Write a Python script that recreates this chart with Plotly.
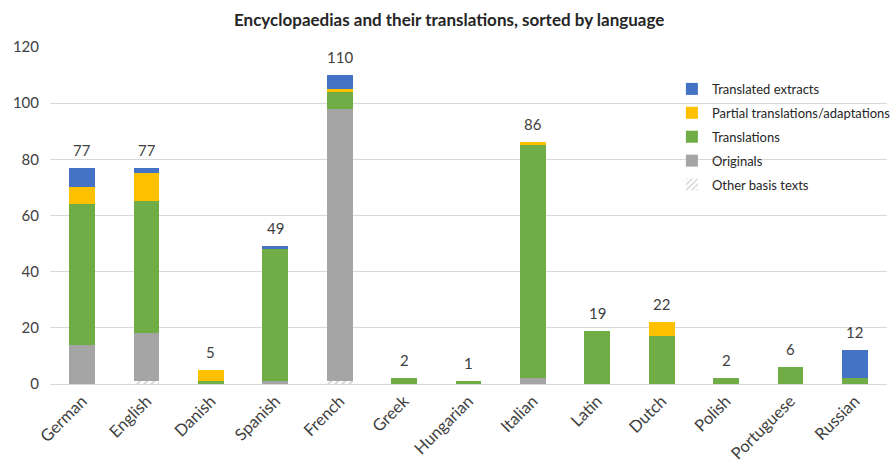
import plotly.graph_objects as go

# Counts per language, split by type of work
languages = ["German", "English", "Danish", "Spanish", "French", "Greek", "Hungarian",
             "Italian", "Latin", "Dutch", "Polish", "Portuguese", "Russian"]
other_basis = [0, 1, 0, 0, 1, 0, 0, 0, 0, 0, 0, 0, 0]
originals = [14, 17, 0, 1, 97, 0, 0, 2, 0, 0, 0, 0, 0]
translations = [50, 47, 1, 47, 6, 2, 1, 83, 19, 17, 2, 6, 2]
partial = [6, 10, 4, 0, 1, 0, 0, 1, 0, 5, 0, 0, 0]
extracts = [7, 2, 0, 1, 5, 0, 0, 0, 0, 0, 0, 0, 10]
y_ticks = [0, 20, 40, 60, 80, 100, 120]

FONT = "Lato"
TEXT = "#404040"
GRID = "#D9D9D9"

fig = go.Figure()

fig.add_trace(go.Bar(
    x=languages, y=other_basis, name="Other basis texts",
    marker=dict(color="white", line=dict(width=0),
                pattern=dict(shape="/", fgcolor="#A5A5A5", bgcolor="white",
                             size=5, solidity=0.35)),
    legendgroup="e", legendrank=5))
fig.add_trace(go.Bar(x=languages, y=originals, name="Originals",
                     marker=dict(color="#A5A5A5", line=dict(width=0)),
                     legendgroup="d", legendrank=4))
fig.add_trace(go.Bar(x=languages, y=translations, name="Translations",
                     marker=dict(color="#70AD47", line=dict(width=0)),
                     legendgroup="c", legendrank=3))
fig.add_trace(go.Bar(x=languages, y=partial, name="Partial translations/adaptations",
                     marker=dict(color="#FFC000", line=dict(width=0)),
                     legendgroup="b", legendrank=2))
fig.add_trace(go.Bar(x=languages, y=extracts, name="Translated extracts",
                     marker=dict(color="#4472C4", line=dict(width=0)),
                     legendgroup="a", legendrank=1))

# Total labels above each stack
totals = [sum(v) for v in zip(other_basis, originals, translations, partial, extracts)]
for lang, tot in zip(languages, totals):
    fig.add_annotation(x=lang, y=tot, text=str(tot), showarrow=False,
                       yanchor="bottom", yshift=7,
                       font=dict(family=FONT, size=15, color=TEXT))

fig.update_layout(
    width=893, height=463,
    barmode="stack", bargap=0.6,
    paper_bgcolor="white", plot_bgcolor="white",
    margin=dict(l=50, r=6, t=47, b=79, autoexpand=False),
    font=dict(family=FONT, color=TEXT),
    title=dict(text="<b>Encyclopaedias and their translations, sorted by language</b>",
               x=0.503, xanchor="center", y=0.957, yanchor="middle",
               font=dict(family=FONT, size=17, color="#262626")),
    legend=dict(x=0.743, y=0.92, xanchor="left", yanchor="top",
                traceorder="grouped", tracegroupgap=4,
                bgcolor="rgba(0,0,0,0)", font=dict(family=FONT, size=13, color="#262626"),
                itemwidth=30),
    xaxis=dict(tickangle=-45, tickfont=dict(family=FONT, size=16.5, color=TEXT),
               showline=True, linecolor=GRID, linewidth=1, ticks="",
               showgrid=False, automargin=False),
    yaxis=dict(range=[0, 120], tickvals=y_ticks, showgrid=True, gridcolor=GRID,
               gridwidth=1, zeroline=False, showline=False, ticks="",
               tickfont=dict(family=FONT, size=15, color=TEXT),
               ticklabelstandoff=10, automargin=False),
)

fig.write_html("out.html")
